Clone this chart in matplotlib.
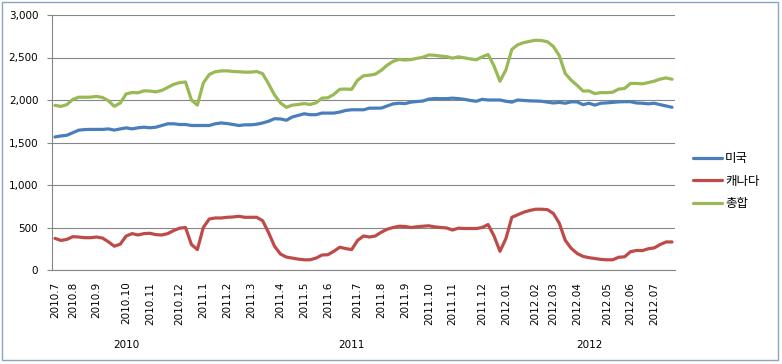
import numpy as np
import matplotlib.pyplot as plt
from matplotlib.patches import Rectangle
from matplotlib.ticker import FuncFormatter

plt.rcParams['font.family'] = ['DejaVu Sans', 'Noto Sans CJK KR']

# --- data (weekly, 2010.7 ~ 2012.07) ---
usa = [1565, 1577, 1585, 1615, 1645, 1652, 1654, 1654, 1654, 1660,
       1646, 1660, 1672, 1660, 1673, 1680, 1673, 1680, 1700, 1720,
       1720, 1712, 1712, 1700, 1700, 1700, 1700, 1720, 1730, 1723,
       1712, 1700, 1708, 1708, 1715, 1730, 1750, 1780, 1777, 1762,
       1800, 1819, 1838, 1827, 1827, 1846, 1846, 1846, 1858, 1877,
       1885, 1885, 1885, 1904, 1904, 1905, 1930, 1955, 1962, 1958,
       1975, 1982, 1988, 2010, 2018, 2016, 2016, 2022, 2016, 2008,
       1995, 1985, 2008, 2000, 2000, 2000, 1985, 1975, 2000, 1995,
       1990, 1988, 1985, 1975, 1965, 1972, 1962, 1978, 1978, 1945,
       1962, 1940, 1962, 1966, 1972, 1978, 1980, 1980, 1965, 1962,
       1955, 1962, 1945, 1930, 1914]

canada = [372, 348, 360, 392, 388, 380, 380, 388, 376, 332,
          280, 304, 400, 428, 412, 428, 432, 416, 412, 428,
          464, 492, 500, 300, 240, 500, 600, 612, 612, 620,
          624, 632, 620, 620, 620, 580, 440, 280, 188, 152,
          140, 128, 120, 120, 140, 176, 180, 220, 268, 252,
          240, 348, 400, 388, 400, 445, 480, 500, 515, 512,
          500, 508, 515, 520, 508, 500, 495, 470, 492, 488,
          488, 488, 500, 535, 400, 220, 370, 620, 650, 680,
          700, 715, 715, 710, 665, 550, 350, 255, 195, 160,
          145, 135, 125, 120, 120, 150, 155, 215, 230, 228,
          250, 260, 300, 330, 330]

total = [1937, 1925, 1945, 2007, 2033, 2032, 2034, 2042, 2030, 1992,
         1926, 1964, 2072, 2088, 2085, 2108, 2105, 2096, 2112, 2148,
         2184, 2204, 2212, 2000, 1940, 2200, 2300, 2332, 2342, 2343,
         2336, 2332, 2328, 2328, 2335, 2310, 2190, 2060, 1965, 1914,
         1940, 1947, 1958, 1947, 1967, 2022, 2026, 2066, 2126, 2129,
         2125, 2233, 2285, 2292, 2304, 2350, 2410, 2455, 2477, 2470,
         2475, 2490, 2503, 2530, 2526, 2516, 2511, 2492, 2508, 2496,
         2483, 2473, 2508, 2535, 2400, 2220, 2355, 2595, 2650, 2675,
         2690, 2703, 2700, 2685, 2630, 2522, 2312, 2233, 2173, 2105,
         2107, 2075, 2087, 2086, 2092, 2128, 2135, 2195, 2195, 2190,
         2205, 2222, 2245, 2260, 2244]

tick_idx = [0, 3, 7, 12, 16, 21, 25, 29, 33, 38, 42, 46, 51,
            55, 59, 63, 67, 72, 76, 81, 84, 88, 93, 97, 101]
tick_labels = ["2010.7", "2010.8", "2010.9", "2010.10", "2010.11", "2010.12",
               "2011.1", "2011.2", "2011.3", "2011.4", "2011.5", "2011.6",
               "2011.7", "2011.8", "2011.9", "2011.10", "2011.11", "2011.12",
               "2012.01", "2012.02", "2012.03", "2012.04", "2012.05",
               "2012.06", "2012.07"]
years = ["2010", "2011", "2012"]
year_start = [0, 25, 76]

series = [("미국", usa, "#4A7EBB"),
          ("캐나다", canada, "#BE4B48"),
          ("총합", total, "#98B954")]

# --- plot ---
W, H = 782, 364
fig = plt.figure(figsize=(W / 100, H / 100), dpi=100)
ax = fig.add_axes([52 / W, (H - 270) / H, (675 - 52) / W, (270 - 15) / H])

x = np.arange(len(usa))
for name, vals, col in series:
    ax.plot(x, vals, color=col, lw=2.3, label=name, solid_capstyle='round')

ax.set_xlim(-0.5, len(usa) - 0.5)
ax.set_ylim(0, 3000)
ax.set_yticks(np.arange(0, 3001, 500))
ax.yaxis.set_major_formatter(FuncFormatter(lambda v, p: f"{int(v):,}"))
ax.grid(axis='y', color='#868686', lw=0.8)
ax.set_axisbelow(True)

ax.set_xticks(tick_idx)
ax.set_xticklabels(tick_labels, rotation=90, fontsize=7.5)
ax.tick_params(axis='x', length=0, pad=8.4)
ax.tick_params(axis='y', length=3.6, width=0.8, color='#868686', pad=6.3, labelsize=7.5)

for s in ['top', 'right']:
    ax.spines[s].set_visible(False)
for s in ['left', 'bottom']:
    ax.spines[s].set_color('#868686')
    ax.spines[s].set_linewidth(0.8)

# year group labels
bounds = year_start + [len(usa)]
for k, yr in enumerate(years):
    c = (bounds[k] + bounds[k + 1] - 1) / 2
    ax.text(c, -0.294, yr, transform=ax.get_xaxis_transform(),
            ha='center', va='center', fontsize=7.5)

fig.legend(loc='center left', bbox_to_anchor=(693 / W, 1 - 181 / H),
           frameon=False, fontsize=9, handlelength=2.3, handletextpad=0.25,
           labelspacing=0.75, borderpad=0, borderaxespad=0)

fig.patches.append(Rectangle((1.5 / W, (H - 359.5) / H), 776 / W, 358 / H,
                             transform=fig.transFigure, fill=False,
                             edgecolor='#8CA4C0', lw=1.0))

fig.savefig("out.png", dpi=100)
